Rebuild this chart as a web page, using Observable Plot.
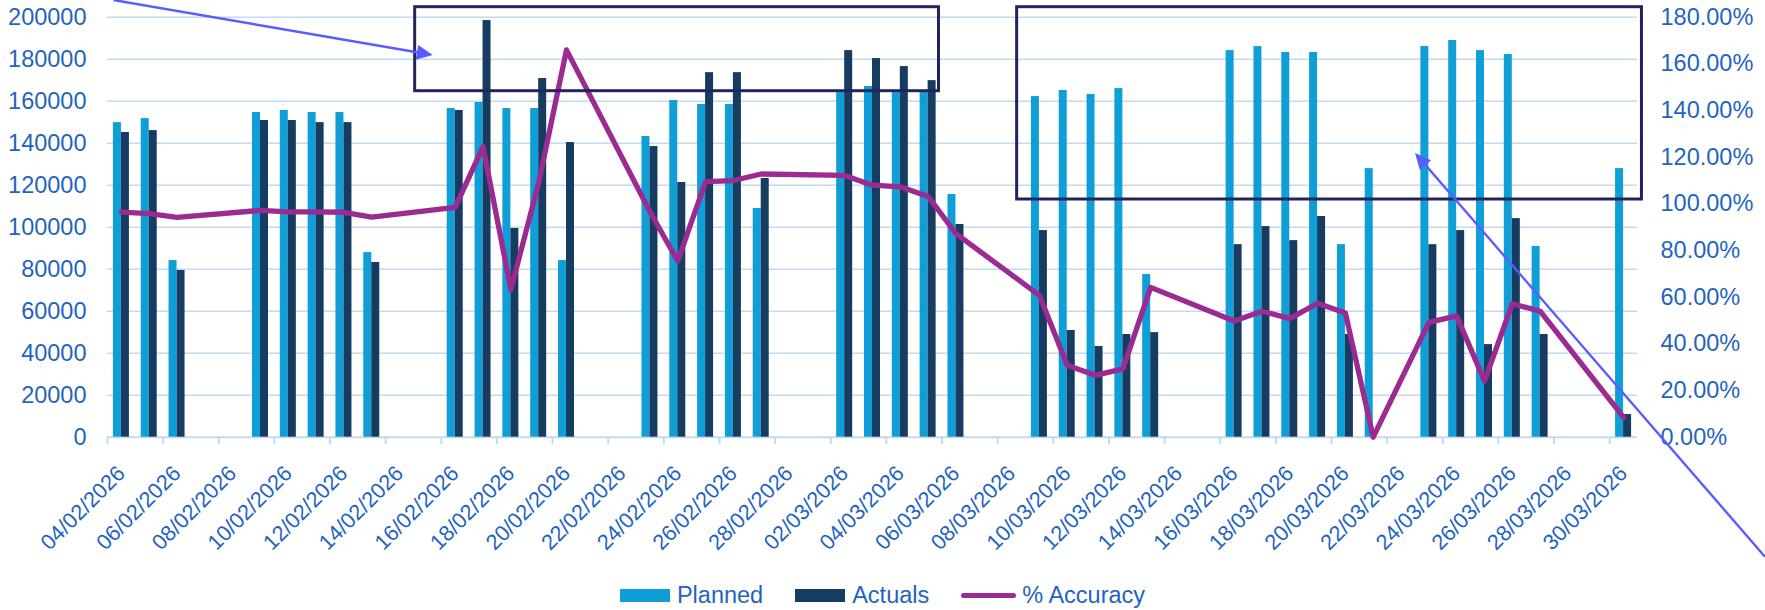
<!DOCTYPE html>
<html>
<head>
<meta charset="utf-8">
<script src="https://cdn.jsdelivr.net/npm/d3@7"></script>
<script src="https://cdn.jsdelivr.net/npm/@observablehq/plot@0.6"></script>
<style>
  html, body { margin: 0; padding: 0; background: #fff; }
  #wrap { width: 1765px; height: 610px; position: relative; overflow: hidden; font-family: "Liberation Sans", Arial, sans-serif; }
  #legend { position: absolute; left: 0; top: 575px; width: 1765px; height: 40px; display: flex; justify-content: center; align-items: center; font-size: 23.5px; color: #1f64bf; }
  .item { display: flex; align-items: center; margin: 0 16px; }
  .sw { width: 50px; height: 13px; margin-right: 7px; }
  .ln { width: 55px; height: 5px; border-radius: 3px; margin-right: 6px; }
</style>
</head>
<body>
<div id="wrap">
  <div id="chart"></div>
  <div id="legend"></div>
</div>
<script>
// ---- data ----
const dates = [
  "04/02/2026","05/02/2026","06/02/2026","07/02/2026","08/02/2026","09/02/2026","10/02/2026",
  "11/02/2026","12/02/2026","13/02/2026","14/02/2026","15/02/2026","16/02/2026","17/02/2026",
  "18/02/2026","19/02/2026","20/02/2026","21/02/2026","22/02/2026","23/02/2026","24/02/2026",
  "25/02/2026","26/02/2026","27/02/2026","28/02/2026","01/03/2026","02/03/2026","03/03/2026",
  "04/03/2026","05/03/2026","06/03/2026","07/03/2026","08/03/2026","09/03/2026","10/03/2026",
  "11/03/2026","12/03/2026","13/03/2026","14/03/2026","15/03/2026","16/03/2026","17/03/2026",
  "18/03/2026","19/03/2026","20/03/2026","21/03/2026","22/03/2026","23/03/2026","24/03/2026",
  "25/03/2026","26/03/2026","27/03/2026","28/03/2026","29/03/2026","30/03/2026"
];
const planned = [
  149800, 151700, 84100, null, null, 154600, 155600,
  154600, 154600, 87900, null, null, 156500, 159400,
  156500, 156500, 84100, null, null, 143200, 160300,
  158400, 158400, 108900, null, null, 164100, 167000,
  164100, 164100, 115600, null, null, 162200, 165100,
  163200, 166000, 77500, null, null, 184100, 186000,
  183200, 183200, 91700, 127900, null, 186000, 188900,
  184100, 182200, 90800, null, null, 127900
];
const actuals = [
  145100, 146000, 79400, null, null, 150800, 150800,
  149800, 149800, 83200, null, null, 155600, 198400,
  99400, 170800, 140300, null, null, 138400, 121300,
  173600, 173600, 123200, null, null, 184100, 180300,
  176500, 169800, 101300, null, null, 98400, 50800,
  43200, 48900, 49800, null, null, 91700, 100300,
  93600, 105100, 48900, 0, null, 91700, 98400,
  44100, 104100, 48900, null, null, 10800
];
const accuracy = [ // % Accuracy
  96.5, 95.8, 94.2, null, null, 97.2, 96.6,
  96.6, 96.4, 94.3, null, null, 98.5, 124.5,
  63.3, 109.0, 166.0, null, null, 96.6, 75.5,
  109.5, 110.0, 112.8, null, null, 112.2, 108.0,
  107.3, 103.2, 87.2, null, null, 60.8, 30.8,
  26.5, 29.3, 64.2, null, null, 49.8, 54.0,
  50.8, 57.4, 53.2, 0, null, 49.2, 52.0,
  24.0, 57.2, 54.0, null, null, 8.5
];
const leftTicks = [0, 20000, 40000, 60000, 80000, 100000, 120000, 140000, 160000, 180000, 200000];
const rightTicks = [0, 20, 40, 60, 80, 100, 120, 140, 160, 180];
const seriesNames = ["Planned", "Actuals", "% Accuracy"];

// annotation shapes (in data units: x = day index, y = left-axis value)
const boxes = [
  {x1: 10.56, x2: 29.39, y1: 164760, y2: 204760},
  {x1: 32.2, x2: 54.66, y1: 113190, y2: 204760}
];
const pointers = [
  {x1: -0.27, y1: 207950, x2: 11.21, y2: 181760},
  {x1: 59.1, y1: -57140, x2: 46.52, y2: 135100}
];

// ---- styles ----
const PLAN = "#109ed6", ACT = "#163c62", LINE = "#9b2a91", GRID = "#c2dbf3",
      TXT = "#1f64bf", BOX = "#23245f", ARROW = "#5a5cff";
const yMax = 200000, pMax = 180;
const toY = p => p / pMax * yMax;

const rows = dates.map((d, i) => ({i, date: d, planned: planned[i], actual: actuals[i], acc: accuracy[i]}));
const labelIdx = dates.map((d, i) => i).filter(i => i % 2 === 0);

const chart = Plot.plot({
  width: 1765,
  height: 570,
  marginLeft: 107,
  marginRight: 128,
  marginTop: 16.7,
  marginBottom: 133.3,
  x: {type: "linear", domain: [-0.5, dates.length - 0.5], axis: null},
  y: {type: "linear", domain: [0, yMax], axis: null},
  style: {fontFamily: "'Liberation Sans', Arial, sans-serif", fontSize: "23.5px", background: "#fff", overflow: "visible"},
  marks: [
    Plot.ruleY(leftTicks.filter(v => v > 0), {stroke: GRID, strokeWidth: 1.5}),
    Plot.ruleY([0], {stroke: GRID, strokeWidth: 2}),
    Plot.ruleX(labelIdx, {x: i => i - 0.5, y1: 0, y2: 0, insetBottom: -7.5, stroke: GRID, strokeWidth: 2}),
    Plot.rect(rows.filter(d => d.planned != null), {x1: "i", x2: "i", y1: 0, y2: "planned", insetLeft: -8, insetRight: 0, fill: PLAN}),
    Plot.rect(rows.filter(d => d.actual != null), {x1: "i", x2: "i", y1: 0, y2: "actual", insetLeft: 0, insetRight: -8, fill: ACT}),
    Plot.line(rows.filter(d => d.acc != null), {x: "i", y: d => toY(d.acc), stroke: LINE, strokeWidth: 5.3, strokeLinejoin: "round", strokeLinecap: "round"}),
    Plot.text(leftTicks, {y: d => d, text: d => String(d), frameAnchor: "left", textAnchor: "end", dx: -21, fill: TXT}),
    Plot.text(rightTicks, {y: p => toY(p), text: p => p.toFixed(2) + "%", frameAnchor: "right", textAnchor: "start", dx: 23, fill: TXT}),
    Plot.text(labelIdx, {x: i => i, y: 0, text: i => dates[i], rotate: -45, textAnchor: "end", dy: 32.5, fontSize: 21.7, fill: TXT}),
    Plot.rect(boxes, {x1: "x1", x2: "x2", y1: "y1", y2: "y2", fill: "none", stroke: BOX, strokeWidth: 3})
  ]
});

// arrows with filled triangular heads, positioned through the plot's scales
const sx = chart.scale("x"), sy = chart.scale("y");
const X = sx.apply ? v => sx.apply(v) : d3.scaleLinear(sx.domain, sx.range);
const Y = sy.apply ? v => sy.apply(v) : d3.scaleLinear(sy.domain, sy.range);
const svg = d3.select(chart);
pointers.forEach(p => {
  const x1 = X(p.x1), y1 = Y(p.y1), x2 = X(p.x2), y2 = Y(p.y2);
  const a = Math.atan2(y2 - y1, x2 - x1), L = 16, W = 7.5;
  const bx = x2 - L * Math.cos(a), by = y2 - L * Math.sin(a);
  svg.append("line").attr("x1", x1).attr("y1", y1).attr("x2", bx).attr("y2", by)
    .attr("stroke", ARROW).attr("stroke-width", 2.4);
  svg.append("path")
    .attr("d", `M${x2},${y2}L${bx - W * Math.sin(a)},${by + W * Math.cos(a)}L${bx + W * Math.sin(a)},${by - W * Math.cos(a)}Z`)
    .attr("fill", ARROW);
});

document.getElementById("chart").appendChild(chart);

// legend
const legend = d3.select("#legend");
const colors = [PLAN, ACT, LINE];
seriesNames.forEach((name, k) => {
  const it = legend.append("div").attr("class", "item");
  it.append("div").attr("class", k === 2 ? "ln" : "sw").style("background", colors[k]);
  it.append("span").text(name);
});
</script>
</body>
</html>
